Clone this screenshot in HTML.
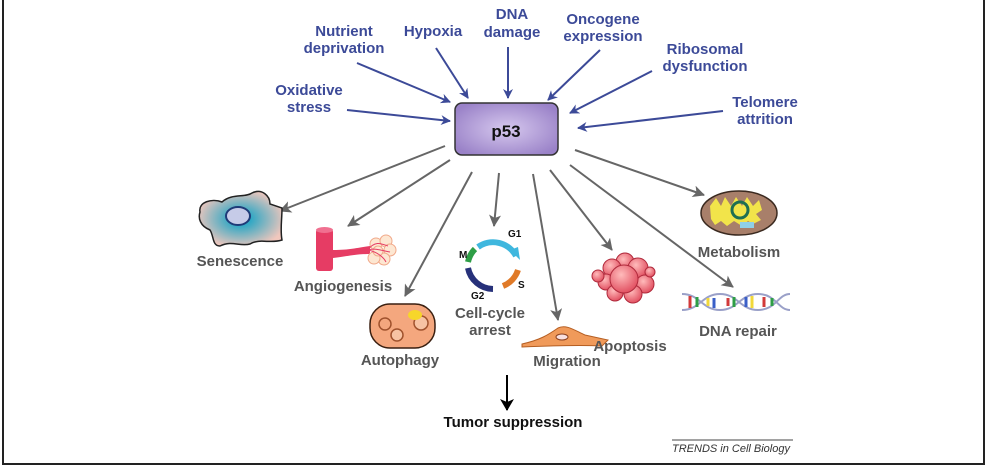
<!DOCTYPE html>
<html><head><meta charset="utf-8"><style>
html,body{margin:0;padding:0;background:#fff;}
svg{display:block;}
.b{font-family:"Liberation Sans",sans-serif;font-weight:bold;font-size:15px;fill:#3c4a98;text-anchor:middle;}
.g{font-family:"Liberation Sans",sans-serif;font-weight:bold;font-size:15px;fill:#555;text-anchor:middle;}
</style></head><body>
<svg width="1006" height="468" viewBox="0 0 1006 468" xmlns="http://www.w3.org/2000/svg">
<defs>
<marker id="ab" markerWidth="10" markerHeight="10" refX="9" refY="5" orient="auto" markerUnits="userSpaceOnUse"><path d="M0,0 L10,5 L0,10 L3,5 Z" fill="#3c4a98"/></marker>
<marker id="ag" markerWidth="12" markerHeight="12" refX="11" refY="6" orient="auto" markerUnits="userSpaceOnUse"><path d="M0,0 L12,6 L0,12 L3,6 Z" fill="#666"/></marker>
<marker id="ak" markerWidth="12" markerHeight="14" refX="11" refY="7" orient="auto" markerUnits="userSpaceOnUse"><path d="M0,0 L12,7 L0,14 L3,7 Z" fill="#000"/></marker>
<radialGradient id="pg" cx="50%" cy="50%" r="60%"><stop offset="0" stop-color="#d6c8ee"/><stop offset="1" stop-color="#9a82c8"/></radialGradient>
<radialGradient id="sg" cx="50%" cy="50%" r="55%"><stop offset="0.2" stop-color="#2aa6c4"/><stop offset="1" stop-color="#f1c7bd"/></radialGradient>
<radialGradient id="rg" cx="40%" cy="35%" r="70%"><stop offset="0" stop-color="#fbb"/><stop offset="1" stop-color="#e04a5c"/></radialGradient>
</defs>
<line x1="3" y1="0" x2="3" y2="465" stroke="#222" stroke-width="2"/>
<line x1="3" y1="464" x2="985" y2="464" stroke="#222" stroke-width="2"/>
<line x1="984" y1="0" x2="984" y2="465" stroke="#222" stroke-width="2"/>

<text class="b" x="344" y="36">Nutrient</text><text class="b" x="344" y="53">deprivation</text>
<text class="b" x="433" y="36">Hypoxia</text>
<text class="b" x="512" y="19">DNA</text><text class="b" x="512" y="37">damage</text>
<text class="b" x="603" y="24">Oncogene</text><text class="b" x="603" y="41">expression</text>
<text class="b" x="705" y="54">Ribosomal</text><text class="b" x="705" y="71">dysfunction</text>
<text class="b" x="309" y="95">Oxidative</text><text class="b" x="309" y="112">stress</text>
<text class="b" x="765" y="107">Telomere</text><text class="b" x="765" y="124">attrition</text>

<g stroke="#3c4a98" stroke-width="2" marker-end="url(#ab)" fill="none">
<line x1="357" y1="63" x2="450" y2="102"/>
<line x1="436" y1="48" x2="468" y2="98"/>
<line x1="508" y1="47" x2="508" y2="98"/>
<line x1="600" y1="50" x2="548" y2="100"/>
<line x1="652" y1="71" x2="570" y2="113"/>
<line x1="347" y1="110" x2="450" y2="121"/>
<line x1="723" y1="111" x2="578" y2="128"/>
</g>

<rect x="455" y="103" width="103" height="52" rx="7" fill="url(#pg)" stroke="#333" stroke-width="1.5"/>
<text x="506" y="137" font-family="Liberation Sans,sans-serif" font-weight="bold" font-size="17" text-anchor="middle" fill="#111">p53</text>

<g stroke="#666" stroke-width="2" marker-end="url(#ag)" fill="none">
<line x1="445" y1="146" x2="280" y2="211"/>
<line x1="450" y1="160" x2="348" y2="226"/>
<line x1="472" y1="172" x2="405" y2="296"/>
<line x1="499" y1="173" x2="494" y2="226"/>
<line x1="533" y1="174" x2="558" y2="320"/>
<line x1="550" y1="170" x2="612" y2="250"/>
<line x1="570" y1="165" x2="733" y2="287"/>
<line x1="575" y1="150" x2="704" y2="195"/>
</g>

<path d="M200,212 C198,202 212,198 222,202 C232,193 245,198 252,193 C262,188 270,196 270,204 L282,208 C282,220 280,230 282,240 C270,244 260,238 250,244 C240,247 232,240 220,246 C212,246 214,236 210,230 C200,226 198,218 200,212 Z" fill="url(#sg)" stroke="#222" stroke-width="1.5"/>
<ellipse cx="238" cy="216" rx="12" ry="9" fill="#c6cbe8" stroke="#1f3b78" stroke-width="2"/>
<text class="g" x="240" y="266">Senescence</text>

<rect x="316" y="229" width="17" height="42" rx="3" fill="#e63c64"/>
<ellipse cx="324.5" cy="230" rx="8.5" ry="3" fill="#f07090"/>
<path d="M333,250 C350,250 355,248 370,246 L370,254 C355,254 350,256 333,258 Z" fill="#e63c64"/>
<g fill="#fde7d2" stroke="#f1a98a" stroke-width="1">
<circle cx="376" cy="244" r="6"/><circle cx="386" cy="241" r="6"/><circle cx="390" cy="250" r="6"/><circle cx="384" cy="259" r="6"/><circle cx="374" cy="258" r="6"/><circle cx="378" cy="251" r="5"/>
</g>
<path d="M368,250 C375,240 382,244 388,246 M368,250 C378,252 384,258 386,262 M368,250 C374,248 380,250 390,252" stroke="#e63c64" stroke-width="1" fill="none"/>
<text class="g" x="343" y="291">Angiogenesis</text>

<rect x="370" y="304" width="65" height="44" rx="20" fill="#f4a77e" stroke="#3a1f10" stroke-width="1.5"/>
<circle cx="385" cy="324" r="6" fill="none" stroke="#a0522d" stroke-width="1.5"/>
<circle cx="397" cy="335" r="6" fill="#f7c3a3" stroke="#a0522d" stroke-width="1.5"/>
<circle cx="421" cy="323" r="7" fill="#f7c3a3" stroke="#a0522d" stroke-width="1.5"/>
<ellipse cx="415" cy="315" rx="7" ry="5" fill="#f7d62a"/>
<text class="g" x="400" y="365">Autophagy</text>

<g fill="none" stroke-width="6">
<path d="M478,247 A26,26 0 0 1 516,256" stroke="#3fb7de"/>
<path d="M518,270 A26,26 0 0 1 503,286" stroke="#e07a28"/>
<path d="M493,289 A26,26 0 0 1 468,268" stroke="#27317a"/>
<path d="M468,262 A26,26 0 0 1 475,249" stroke="#2e9e46"/>
</g>
<path d="M510,250 l8,-3 l2,13 z" fill="#3fb7de"/>
<text x="508" y="237" font-family="Liberation Sans,sans-serif" font-weight="bold" font-size="10" fill="#111">G1</text>
<text x="459" y="258" font-family="Liberation Sans,sans-serif" font-weight="bold" font-size="10" fill="#111">M</text>
<text x="518" y="288" font-family="Liberation Sans,sans-serif" font-weight="bold" font-size="10" fill="#111">S</text>
<text x="471" y="299" font-family="Liberation Sans,sans-serif" font-weight="bold" font-size="10" fill="#111">G2</text>
<text class="g" x="490" y="318">Cell-cycle</text><text class="g" x="490" y="335">arrest</text>

<path d="M522,344 C540,340 548,335 558,328 C566,324 574,330 585,335 L608,340 L602,346 C580,345 545,346 522,347 Z" fill="#f09a5a" stroke="#b55e22" stroke-width="1"/>
<ellipse cx="562" cy="337" rx="6" ry="3" fill="#f8e0e0" stroke="#8a4020"/>
<text class="g" x="567" y="366">Migration</text>

<g fill="url(#rg)" stroke="#b02a3c" stroke-width="1">
<circle cx="625" cy="262" r="9"/><circle cx="612" cy="268" r="9"/><circle cx="638" cy="268" r="10"/><circle cx="606" cy="282" r="8"/><circle cx="645" cy="284" r="9"/><circle cx="615" cy="293" r="8"/><circle cx="633" cy="294" r="9"/><circle cx="624" cy="279" r="14"/><circle cx="598" cy="276" r="6"/><circle cx="650" cy="272" r="5"/>
</g>
<text class="g" x="630" y="351">Apoptosis</text>

<ellipse cx="739" cy="213" rx="38" ry="22" fill="#a87f6a" stroke="#3b2a20" stroke-width="1.5"/>
<path d="M710,206 l6,-8 l5,8 l4,-9 l6,9 l5,-9 l6,9 l5,-9 l6,9 l6,-6 l3,10 l-6,4 l5,6 l-8,4 l-5,-3 l-6,5 l-8,-5 l-7,5 l-6,-5 l-6,4 l-4,-6 z" fill="#f2e44a"/>
<circle cx="740" cy="210" r="8" fill="none" stroke="#1f6e52" stroke-width="3"/>
<rect x="740" y="222" width="14" height="6" fill="#8fd0e8"/>
<text class="g" x="739" y="257">Metabolism</text>

<g fill="none" stroke="#9aa0c8" stroke-width="2">
<path d="M682,294 C700,294 702,310 720,310 C738,310 740,294 758,294 C776,294 778,310 790,310"/>
<path d="M682,310 C700,310 702,294 720,294 C738,294 740,310 758,310 C776,310 778,294 790,294"/>
</g>
<g stroke-width="3">
<line x1="690" y1="296" x2="690" y2="308" stroke="#d23a3a"/><line x1="697" y1="297" x2="697" y2="307" stroke="#2e9e46"/>
<line x1="708" y1="298" x2="708" y2="306" stroke="#f2d83a"/><line x1="714" y1="298" x2="714" y2="308" stroke="#3a5fc8"/>
<line x1="728" y1="298" x2="728" y2="306" stroke="#d23a3a"/><line x1="734" y1="297" x2="734" y2="307" stroke="#2e9e46"/>
<line x1="746" y1="297" x2="746" y2="307" stroke="#3a5fc8"/><line x1="752" y1="296" x2="752" y2="308" stroke="#f2d83a"/>
<line x1="764" y1="297" x2="764" y2="307" stroke="#d23a3a"/><line x1="772" y1="298" x2="772" y2="306" stroke="#2e9e46"/>
</g>
<text class="g" x="738" y="336">DNA repair</text>

<line x1="507" y1="375" x2="507" y2="410" stroke="#000" stroke-width="2" marker-end="url(#ak)"/>
<text x="513" y="427" font-family="Liberation Sans,sans-serif" font-weight="bold" font-size="15" text-anchor="middle" fill="#111">Tumor suppression</text>

<line x1="672" y1="440" x2="793" y2="440" stroke="#444" stroke-width="1"/>
<text x="672" y="452" font-family="Liberation Sans,sans-serif" font-style="italic" font-size="11" fill="#333">TRENDS in Cell Biology</text>
</svg>
</body></html>
